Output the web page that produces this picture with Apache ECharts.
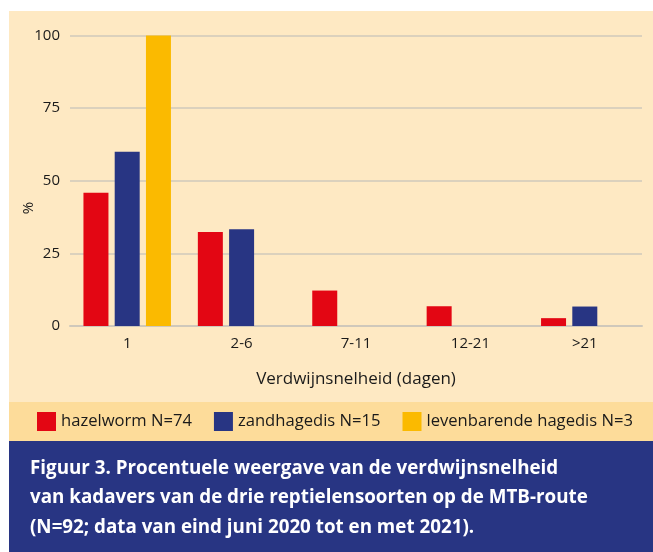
<!DOCTYPE html>
<html><head><meta charset="utf-8">
<script src="https://cdn.jsdelivr.net/npm/echarts@6/dist/echarts.min.js"></script>
<style>html,body{margin:0;padding:0;background:#fff}#c{width:653px;height:552px}</style>
</head><body><div id="c"></div>
<script>
const categories = ['1', '2-6', '7-11', '12-21', '>21'];
const hazelworm = [45.9, 32.4, 12.2, 6.8, 2.7];
const zandhagedis = [60, 33.3, 0, 0, 6.7];
const levenbarende = [100, 0, 0, 0, 0];
const seriesNames = ['hazelworm N=74', 'zandhagedis N=15', 'levenbarende hagedis N=3'];
const yTicks = [0, 25, 50, 75, 100];
const yName = '%';
const captionLines = [
  'Figuur 3. Procentuele weergave van de verdwijnsnelheid',
  'van kadavers van de drie reptielensoorten op de MTB-route',
  '(N=92; data van eind juni 2020 tot en met 2021).'
];
const FONT = 'Open Sans';
const chart = echarts.init(document.getElementById('c'));
const mk = (name, data, color) => ({
  name, type: 'bar', data: data.map(v => v === 0 ? null : v), barWidth: 25, barGap: '25%',
  itemStyle: { color }, emphasis: { disabled: true }, silent: true
});
chart.setOption({
  animation: false,
  textStyle: { fontFamily: FONT },
  graphic: [
    { type: 'rect', z: -10, shape: { x: 9, y: 11, width: 644, height: 391 }, style: { fill: '#fee9c3' } },
    { type: 'rect', z: -10, shape: { x: 9, y: 402, width: 644, height: 39 }, style: { fill: '#fddc9a' } },
    { type: 'rect', z: -10, shape: { x: 9, y: 441, width: 644, height: 111 }, style: { fill: '#283583' } },
    { type: 'text', x: 29, y: 208, rotation: Math.PI / 2,
      style: { text: yName, fill: '#1a1a1a', font: '15px "' + FONT + '"', align: 'center', verticalAlign: 'middle' } },
    ...captionLines.map((t, i) => ({
      type: 'text', left: 30, top: 459 + i * 29.5,
      style: { text: t, fill: '#ffffff', font: 'bold 18.8px "' + FONT + '"' }
    }))
  ],
  grid: { left: 70, right: 11, top: 35.5, bottom: 226 },
  legend: {
    data: seriesNames, left: 32, top: 407, itemWidth: 19, itemHeight: 19, itemGap: 22,
    icon: 'rect', selectedMode: false,
    textStyle: { fontSize: 16.6, color: '#1a1a1a', fontFamily: FONT }
  },
  xAxis: {
    type: 'category', data: categories,
    axisLine: { lineStyle: { color: '#cfc8bb', width: 2 } },
    axisTick: { show: false },
    axisLabel: { fontSize: 15, color: '#1a1a1a', margin: 10 },
    name: 'Verdwijnsnelheid (dagen)', nameLocation: 'middle', nameGap: 45,
    nameMoveOverlap: false,
    nameTextStyle: { fontSize: 17, color: '#1a1a1a' }
  },
  yAxis: {
    type: 'value', min: 0, max: 100, interval: 25,
    axisLine: { show: false }, axisTick: { show: false },
    splitLine: { lineStyle: { color: '#cfc8bb', width: 1.5 } },
    axisLabel: { fontSize: 15, color: '#1a1a1a', margin: 10,
      formatter: v => yTicks.includes(v) ? String(v) : '' }
  },
  series: [
    mk(seriesNames[0], hazelworm, '#e30613'),
    mk(seriesNames[1], zandhagedis, '#283583'),
    mk(seriesNames[2], levenbarende, '#fbba00')
  ]
});
</script></body></html>
